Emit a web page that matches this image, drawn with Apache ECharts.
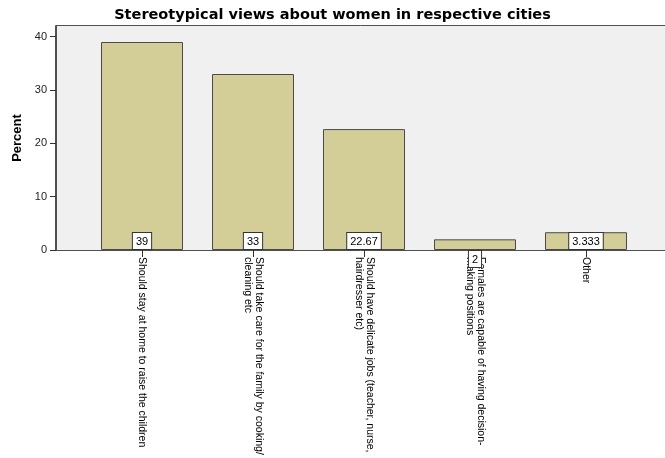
<!DOCTYPE html>
<html>
<head>
<meta charset="utf-8">
<style>
  html, body { margin: 0; padding: 0; background: #ffffff; }
  #chart { width: 665px; height: 458px; }
</style>
<script src="https://cdn.jsdelivr.net/npm/echarts@6/dist/echarts.min.js"></script>
</head>
<body>
<div id="chart"></div>
<script>
// Response categories (wrapped for the rotated axis labels)
const categories = [
  'Should stay at home to raise the children',
  'Should take care for the family by cooking/\ncleaning etc',
  'Should have delicate jobs (teacher, nurse,\nhairdresser etc)',
  'Females are capable of having decision-\nmaking positions',
  'Other'
];

// Percent of respondents per category
const percents = [39, 33, 22.67, 2, 3.333];

// Value-axis tick marks
const yTicks = [0, 10, 20, 30, 40];

const FONT = '"Liberation Sans", Arial, sans-serif';

const chart = echarts.init(document.getElementById('chart'), null, { renderer: 'canvas' });

// Bars too short to hold their value box get the box just under the baseline
const barData = percents.map(v => ({
  value: v,
  label: { position: v < 3 ? 'bottom' : 'insideBottom' }
}));

chart.setOption({
  animation: false,
  backgroundColor: '#ffffff',
  title: {
    text: 'Stereotypical views about women in respective cities',
    left: 'center',
    top: 3,
    textStyle: { fontFamily: '"DejaVu Sans", sans-serif', fontSize: 14.5, fontWeight: 'bold', color: '#000' }
  },
  graphic: [{
    type: 'rect',
    z: -1,
    shape: { x: 55.5, y: 25.5, width: 640, height: 225 },
    style: { fill: '#f0f0f0', stroke: '#505050', lineWidth: 1 }
  }],
  grid: { left: 86.5, right: 23.5, top: 26, bottom: 208 },
  xAxis: {
    type: 'category',
    data: categories,
    axisLine: { show: false },
    axisTick: { show: true, alignWithLabel: true, length: 7, lineStyle: { color: '#333333' } },
    axisLabel: {
      interval: 0,
      rotate: -90,
      margin: 7,
      fontFamily: FONT,
      fontSize: 10.5,
      lineHeight: 11,
      color: '#000'
    }
  },
  yAxis: {
    type: 'value',
    min: 0,
    max: 42,
    interval: 10,
    offset: 30.5,
    name: 'Percent',
    nameLocation: 'middle',
    nameGap: 31,
    nameTextStyle: { fontFamily: FONT, fontSize: 13, fontWeight: 'bold', color: '#000' },
    axisLine: { show: true, lineStyle: { color: '#505050' } },
    axisTick: { show: true, length: 6, customValues: yTicks, lineStyle: { color: '#333333' } },
    axisLabel: { customValues: yTicks, margin: 9, fontFamily: FONT, fontSize: 11, color: '#222' },
    splitLine: { show: false }
  },
  series: [{
    type: 'bar',
    data: barData,
    barWidth: 82,
    itemStyle: { color: '#d3ce98', borderColor: '#4a4a4a', borderWidth: 1 },
    label: {
      show: true,
      distance: 1,
      fontFamily: FONT,
      fontSize: 11,
      color: '#000',
      backgroundColor: '#ffffff',
      borderColor: '#333333',
      borderWidth: 1,
      padding: [3, 3, 2, 3],
      formatter: p => String(p.value)
    }
  }]
});
</script>
</body>
</html>
